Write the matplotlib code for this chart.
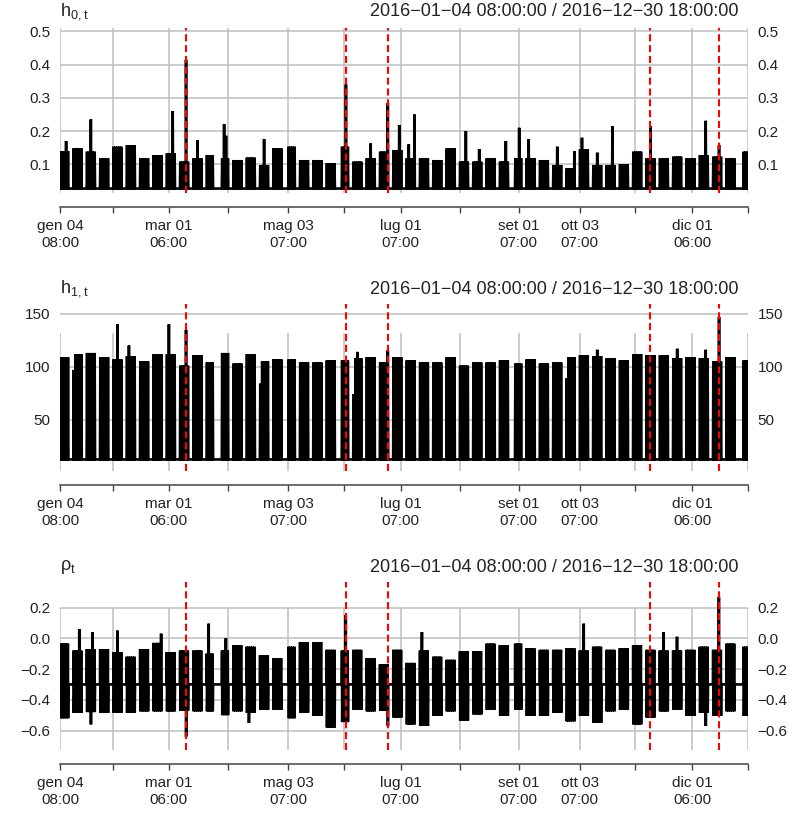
import numpy as np
import pandas as pd
import matplotlib
matplotlib.use("Agg")
import matplotlib.pyplot as plt

plt.rcParams['font.family'] = ['Liberation Sans', 'DejaVu Sans']

# --- data --------------------------------------------------------------
# weekly block tops (one value per week, weeks start Monday 2016-01-04)
h0_top = [0.140, 0.148, 0.138, 0.118, 0.153, 0.158, 0.118, 0.128, 0.133, 0.108,
          0.118, 0.128, 0.118, 0.113, 0.120, 0.098, 0.148, 0.153, 0.113, 0.113,
          0.103, 0.153, 0.108, 0.118, 0.138, 0.143, 0.118, 0.118, 0.113, 0.148,
          0.108, 0.108, 0.118, 0.108, 0.118, 0.118, 0.113, 0.098, 0.088, 0.145,
          0.098, 0.098, 0.100, 0.138, 0.118, 0.118, 0.123, 0.118, 0.128, 0.123,
          0.118, 0.138]
h0_low = 0.027

h1_top = [109, 112, 113, 109, 107, 110, 105, 112, 112, 101,
          111, 104, 113, 103, 112, 105, 107, 107, 104, 104,
          106, 106, 108, 109, 104, 109, 106, 104, 104, 109,
          101, 104, 104, 106, 103, 107, 103, 104, 109, 111,
          110, 108, 106, 112, 111, 111, 108, 109, 108, 105,
          109, 106]
h1_low = 12.5

rho_top = [-0.035, -0.08, -0.07, -0.07, -0.09, -0.12, -0.07, -0.03, -0.09, -0.08,
           -0.08, -0.10, -0.08, -0.045, -0.055, -0.11, -0.13, -0.055, -0.025, -0.025,
           -0.075, -0.08, -0.075, -0.13, -0.17, -0.075, -0.16, -0.08, -0.12, -0.14,
           -0.085, -0.085, -0.035, -0.045, -0.035, -0.065, -0.075, -0.075, -0.065, -0.08,
           -0.055, -0.075, -0.065, -0.045, -0.075, -0.08, -0.08, -0.075, -0.055, -0.075,
           -0.035, -0.055]
rho_low = [-0.52, -0.485, -0.48, -0.485, -0.485, -0.485, -0.475, -0.475, -0.475, -0.47,
           -0.475, -0.475, -0.50, -0.475, -0.485, -0.465, -0.465, -0.52, -0.485, -0.505,
           -0.58, -0.545, -0.465, -0.475, -0.47, -0.515, -0.56, -0.57, -0.505, -0.475,
           -0.535, -0.495, -0.465, -0.505, -0.465, -0.505, -0.505, -0.485, -0.54, -0.505,
           -0.55, -0.475, -0.465, -0.56, -0.515, -0.475, -0.465, -0.505, -0.485, -0.505,
           -0.475, -0.505]
rho_mid = -0.30

# single days that stand out from their week
h0_days = {"2016-01-07": 0.17, "2016-01-20": 0.235, "2016-03-03": 0.26, "2016-03-10": 0.415,
           "2016-03-16": 0.173, "2016-03-30": 0.221, "2016-03-31": 0.186, "2016-04-20": 0.176,
           "2016-06-02": 0.341, "2016-06-15": 0.163, "2016-06-24": 0.284, "2016-06-30": 0.218,
           "2016-07-05": 0.16, "2016-07-08": 0.25, "2016-08-04": 0.2, "2016-08-11": 0.146,
           "2016-08-25": 0.17, "2016-09-01": 0.21, "2016-09-06": 0.176, "2016-09-21": 0.153,
           "2016-09-30": 0.14, "2016-10-04": 0.18, "2016-10-12": 0.135, "2016-10-20": 0.215,
           "2016-11-09": 0.215, "2016-12-08": 0.231, "2016-12-15": 0.158}
h1_days = {"2016-01-11": 97, "2016-02-03": 140, "2016-02-09": 120, "2016-03-01": 140,
           "2016-03-10": 134.7, "2016-04-18": 84, "2016-06-06": 74, "2016-06-08": 114,
           "2016-06-24": 115.6, "2016-09-26": 89, "2016-10-12": 116, "2016-11-23": 117,
           "2016-12-08": 116, "2016-12-15": 147}
rho_up = {"2016-01-14": 0.06, "2016-01-21": 0.04, "2016-02-03": 0.05, "2016-02-26": 0.03,
          "2016-03-22": 0.095, "2016-03-31": 0.0, "2016-06-02": 0.15, "2016-07-12": 0.04,
          "2016-10-05": 0.095, "2016-11-16": 0.04, "2016-11-23": 0.01, "2016-12-15": 0.27}
rho_down = {"2016-01-20": -0.56, "2016-03-10": -0.64, "2016-04-12": -0.55,
            "2016-06-24": -0.57, "2016-12-08": -0.57}

holidays = ["2016-03-25", "2016-03-28", "2016-05-02", "2016-05-30",
            "2016-08-29", "2016-12-26", "2016-12-27"]
events = ["2016-03-10 12:00", "2016-06-02 12:00", "2016-06-24 12:00",
          "2016-11-09 12:00", "2016-12-15 12:00"]

tick_dates = ["2016-01-04 08:00", "2016-02-01 08:00", "2016-03-01 08:00", "2016-04-01 08:00",
              "2016-05-03 08:00", "2016-06-01 08:00", "2016-07-01 08:00", "2016-08-01 08:00",
              "2016-09-01 08:00", "2016-10-03 08:00", "2016-11-01 08:00", "2016-12-01 08:00",
              "2016-12-30 18:00"]
tick_labels = ["gen 04\n08:00", "", "mar 01\n06:00", "", "mag 03\n07:00", "",
               "lug 01\n07:00", "", "set 01\n07:00", "ott 03\n07:00", "", "dic 01\n06:00", ""]
range_text = "2016\u221201\u221204 08:00:00 / 2016\u221212\u221230 18:00:00"

# --- build the series: each trading day open / peak / close ---------------
days = pd.bdate_range("2016-01-04", "2016-12-30").difference(pd.to_datetime(holidays))
hr = lambda h: pd.Timedelta(hours=h)
t_h, s_h0, s_h1, t_r, s_r = [], [], [], [], []
for d in days:
    w = (d - days[0]).days // 7
    k = d.strftime("%Y-%m-%d")
    t_h += [d + hr(8), d + hr(13), d + hr(18)]
    s_h0 += [h0_low, h0_days.get(k, h0_top[w]), h0_low]
    s_h1 += [h1_low, h1_days.get(k, h1_top[w]), h1_low]
    t_r += [d + hr(8), d + hr(11), d + hr(14), d + hr(18)]
    s_r += [rho_mid, rho_up.get(k, rho_top[w]), rho_down.get(k, rho_low[w]), rho_mid]
t_h = pd.to_datetime(t_h).to_numpy()
t_r = pd.to_datetime(t_r).to_numpy()

# --- figure ---------------------------------------------------------------
W, H = 802, 817
fig = plt.figure(figsize=(W / 100, H / 100), dpi=100)
grid_c = "#BEBEBE"
xlo = pd.Timestamp("2016-01-04 08:00")
xhi = pd.Timestamp("2016-12-30 18:00")
ticks = pd.to_datetime(tick_dates)


def panel(top, bottom, t, s, ylim, yt, ylab, title, title_y, vtop):
    ax = fig.add_axes([60 / W, 1 - bottom / H, 688 / W, (bottom - top) / H])
    ax.set_xlim(xlo, xhi)
    ax.set_ylim(*ylim)
    for y in yt:
        ax.axhline(y, color=grid_c, lw=1.1, zorder=0)
    ax.vlines(ticks, ylim[0], vtop, color=grid_c, lw=1.1, zorder=0)
    ax.plot(t, s, color="black", lw=1.9, solid_joinstyle="miter")
    for e in events:
        ax.axvline(pd.Timestamp(e), color="red", lw=1.5, ls=(0, (3.4, 1.8)), zorder=3)
    for sp in ["top", "left", "right"]:
        ax.spines[sp].set_visible(False)
    ax.spines["bottom"].set_position(("outward", 10))
    ax.spines["bottom"].set_color("#444444")
    ax.spines["bottom"].set_linewidth(1.1)
    ax.set_xticks(ticks)
    ax.set_xticklabels(tick_labels, fontsize=11, color="#222222", linespacing=1.2)
    ax.tick_params(axis="x", length=4.5, width=1.0, color="#444444", pad=4.5)
    ax.set_yticks(yt)
    ax.set_yticklabels(ylab, fontsize=11, color="#222222")
    ax.tick_params(axis="y", length=0, labelleft=True, labelright=True, pad=7)
    fig.text(60 / W, 1 - title_y / H, title, fontsize=13, color="#222222", va="center", ha="left")
    fig.text(738 / W, 1 - title_y / H, range_text, fontsize=13, color="#222222",
             va="center", ha="right")
    return ax


panel(28, 193, t_h, s_h0, (0.0136, 0.5105), [0.1, 0.2, 0.3, 0.4, 0.5],
      ["0.1", "0.2", "0.3", "0.4", "0.5"], r"$\mathregular{h_{0,t}}$", 12, 0.5105)
panel(304, 471, t_h, s_h1, (1.6, 159.2), [50, 100, 150],
      ["50", "100", "150"], r"$\mathregular{h_{1,t}}$", 289, 131.8)
panel(582, 750, t_r, s_r, (-0.7265, 0.366), [-0.6, -0.4, -0.2, 0.0, 0.2],
      ["\u22120.6", "\u22120.4", "\u22120.2", "0.0", "0.2"], r"$\mathregular{\rho_t}$", 567, 0.2)

fig.savefig("out.png", dpi=100)
